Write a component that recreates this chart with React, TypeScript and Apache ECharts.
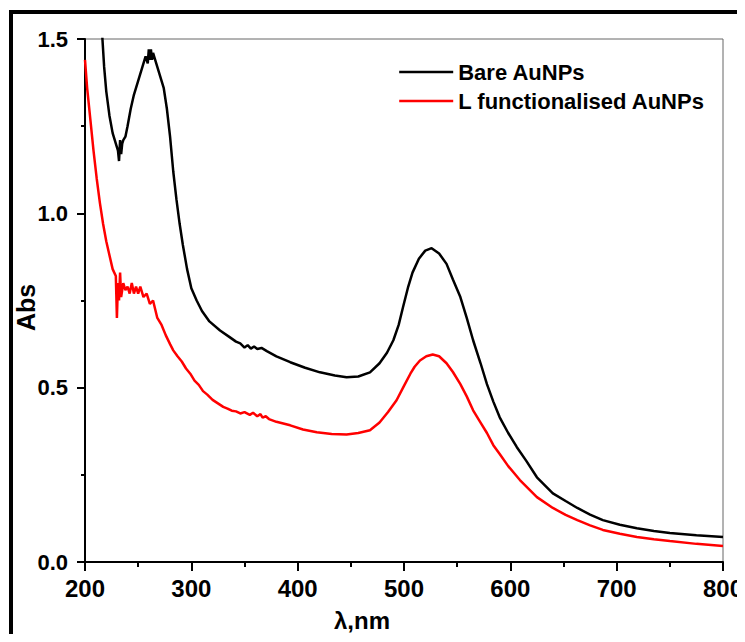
import React, { useEffect, useRef } from "react";
import * as echarts from "echarts";

const bareWavelength = [
  210, 213, 216, 218, 220, 223, 226, 229, 231, 232, 233, 234, 235, 236, 238, 240, 243, 246, 250, 254,
  257, 259, 260, 261, 262, 263, 264, 265, 268, 271, 274, 277, 280, 283, 286, 289, 292, 296, 300, 305,
  310, 317, 327, 336, 342, 346, 350, 353, 356, 359, 362, 366, 371, 380, 393, 407, 421, 435, 446, 457,
  468, 477, 484, 490, 495, 499, 504, 508, 514, 520, 526, 533, 540, 546, 553, 559, 565, 572, 578, 584,
  590, 598, 606, 615, 625, 640, 652, 663, 675, 687, 703, 719, 735, 750, 775, 800,
];
const bareAbs = [
  1.9, 1.68, 1.52, 1.42, 1.35, 1.28, 1.23, 1.2, 1.18, 1.15, 1.21, 1.17, 1.2, 1.21, 1.22, 1.25, 1.3, 1.34, 1.38, 1.42,
  1.45, 1.43, 1.47, 1.44, 1.47, 1.44, 1.46, 1.45, 1.42, 1.39, 1.36, 1.3, 1.22, 1.12, 1.04, 0.97, 0.91, 0.84, 0.785, 0.75,
  0.72, 0.69, 0.664, 0.645, 0.632, 0.627, 0.615, 0.622, 0.612, 0.618, 0.611, 0.614, 0.605, 0.59, 0.573, 0.557, 0.544, 0.535, 0.53, 0.532,
  0.544, 0.57, 0.6, 0.636, 0.68, 0.73, 0.79, 0.83, 0.87, 0.893, 0.9, 0.885, 0.855, 0.81, 0.76, 0.7, 0.636, 0.57, 0.51, 0.46,
  0.415, 0.37, 0.33, 0.29, 0.243, 0.197, 0.175, 0.155, 0.136, 0.12, 0.107, 0.097, 0.089, 0.083, 0.077, 0.072,
];

const lWavelength = [
  200, 202, 205, 208, 211, 214, 217, 220, 223, 226, 229, 230, 231, 232, 233, 234, 236, 238, 240, 242,
  244, 246, 248, 250, 252, 255, 258, 261, 264, 268, 272, 276, 280, 283, 287, 291, 295, 299, 303, 307,
  311, 315, 320, 325, 330, 334, 338, 342, 346, 350, 355, 358, 362, 365, 367, 370, 373, 380, 393, 405,
  418, 432, 446, 457, 468, 477, 485, 493, 500, 506, 510, 515, 521, 527, 533, 540, 546, 553, 559, 565,
  572, 578, 584, 590, 598, 609, 625, 640, 652, 663, 675, 687, 703, 719, 735, 750, 775, 800,
];
const lAbs = [
  1.44, 1.36, 1.27, 1.18, 1.1, 1.03, 0.97, 0.92, 0.88, 0.84, 0.82, 0.7, 0.8, 0.75, 0.83, 0.76, 0.8, 0.78, 0.79, 0.77,
  0.8, 0.77, 0.79, 0.77, 0.79, 0.76, 0.77, 0.74, 0.75, 0.7, 0.68, 0.65, 0.625, 0.607, 0.59, 0.575, 0.555, 0.54, 0.52, 0.508,
  0.49, 0.48, 0.465, 0.455, 0.445, 0.44, 0.434, 0.432, 0.426, 0.43, 0.422, 0.428, 0.418, 0.424, 0.414, 0.418, 0.41, 0.402, 0.392, 0.38,
  0.372, 0.367, 0.366, 0.37, 0.378, 0.4, 0.43, 0.464, 0.505, 0.54, 0.56, 0.578, 0.59, 0.595, 0.59, 0.57, 0.545, 0.51, 0.475, 0.435,
  0.4, 0.37, 0.335, 0.31, 0.275, 0.235, 0.186, 0.155, 0.135, 0.12, 0.105, 0.092, 0.081, 0.072, 0.065, 0.06, 0.052, 0.046,
];

const xTicks = [200, 300, 400, 500, 600, 700, 800];
const yTicks = [0.0, 0.5, 1.0, 1.5];
const seriesNames = ["Bare AuNPs", "L functionalised AuNPs"];

const FONT = "'Liberation Sans', Arial, Helvetica, sans-serif";

export default function App() {
  const ref = useRef<HTMLDivElement>(null);
  useEffect(() => {
    if (!ref.current) return;
    document.documentElement.style.overflow = "hidden";
    document.body.style.overflow = "hidden";
    const chart = echarts.init(ref.current, null, { renderer: "svg" });
    const bareData = bareWavelength.map((w, i) => [w, bareAbs[i]]);
    const lData = lWavelength.map((w, i) => [w, lAbs[i]]);
    chart.setOption({
      animation: false,
      backgroundColor: "#ffffff",
      grid: {
        left: 77,
        right: 22,
        top: 31,
        bottom: 72,
        outerBoundsMode: "none",
        containLabel: false,
        show: true,
        borderColor: "#666",
        borderWidth: 1,
        backgroundColor: "transparent",
      },
      legend: {
        orient: "vertical",
        left: 390,
        top: 53,
        padding: 0,
        itemWidth: 54,
        itemHeight: 21,
        itemGap: 7,
        data: seriesNames,
        textStyle: { fontFamily: FONT, fontWeight: "bold", fontSize: 22, color: "#000" },
        lineStyle: { width: 2.4 },
        itemStyle: { opacity: 0 },
      },
      xAxis: {
        type: "value",
        min: xTicks[0],
        max: xTicks[xTicks.length - 1],
        interval: 100,
        name: "λ,nm",
        nameLocation: "middle",
        nameGap: 46,
        nameMoveOverlap: false,
        nameTextStyle: { fontFamily: FONT, fontWeight: "bold", fontSize: 24, color: "#000", padding: [0, 84, 0, 0] },
        axisLine: { show: true, lineStyle: { color: "#000", width: 2 } },
        axisTick: { show: true, length: 9, lineStyle: { color: "#000", width: 2 } },
        minorTick: { show: true, splitNumber: 2, length: 5, lineStyle: { color: "#000", width: 2 } },
        splitLine: { show: false },
        axisLabel: { fontFamily: FONT, fontWeight: "bold", fontSize: 24, color: "#000", margin: 14 },
      },
      yAxis: {
        type: "value",
        min: yTicks[0],
        max: yTicks[yTicks.length - 1],
        interval: 0.5,
        name: "Abs",
        nameLocation: "middle",
        nameGap: 47,
        nameMoveOverlap: false,
        nameRotate: 90,
        nameTextStyle: { fontFamily: FONT, fontWeight: "bold", fontSize: 25, color: "#000", padding: [0, 14, 0, 0] },
        axisLine: { show: true, lineStyle: { color: "#000", width: 2 } },
        axisTick: { show: true, length: 8, lineStyle: { color: "#000", width: 2 } },
        minorTick: { show: true, splitNumber: 2, length: 4, lineStyle: { color: "#000", width: 2 } },
        splitLine: { show: false },
        axisLabel: {
          fontFamily: FONT,
          fontWeight: "bold",
          fontSize: 22,
          color: "#000",
          margin: 17,
          formatter: (v: number) => v.toFixed(1),
        },
      },
      series: [
        {
          name: seriesNames[0],
          type: "line",
          data: bareData,
          symbol: "none",
          clip: true,
          lineStyle: { color: "#000", width: 2.5 },
          itemStyle: { color: "#000" },
        },
        {
          name: seriesNames[1],
          type: "line",
          data: lData,
          symbol: "none",
          clip: true,
          lineStyle: { color: "#ff0000", width: 2.5 },
          itemStyle: { color: "#ff0000" },
        },
      ],
      graphic: [
        { type: "rect", shape: { x: 1, y: 2, width: 740, height: 4 }, style: { fill: "#000" } },
        { type: "rect", shape: { x: 1, y: 2, width: 4, height: 640 }, style: { fill: "#000" } },
      ],
    });
    return () => chart.dispose();
  }, []);
  return <div ref={ref} style={{ width: 737, height: 626 }} />;
}
